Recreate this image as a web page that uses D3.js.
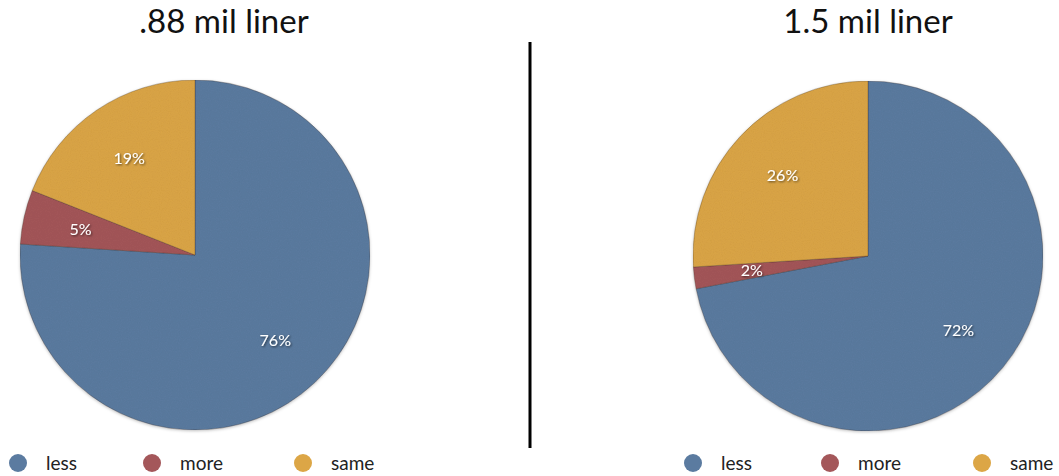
<!DOCTYPE html>
<html>
<head>
<meta charset="utf-8">
<script src="https://cdn.jsdelivr.net/npm/d3@7"></script>
<style>
  body { margin: 0; background: #fff; }
  svg { display: block; }
  text { font-family: "Lato", "Open Sans", sans-serif; }
</style>
</head>
<body>
<svg id="chart" width="1059" height="476"></svg>
<script>
// Survey answers per liner thickness
const categories = ["less", "more", "same"];
const titles = [".88 mil liner", "1.5 mil liner"];
const valuesThin = [76, 5, 19];
const valuesThick = [72, 2, 26];
const colors = ["#5b7ba0", "#a4575a", "#dca646"];

const panels = [
  { title: titles[0], values: valuesThin, cx: 195, cy: 255, titleX: 224, legendX: [18, 152, 303] },
  { title: titles[1], values: valuesThick, cx: 868, cy: 256, titleX: 868, legendX: [693, 830, 982] }
];

const svg = d3.select("#chart");
const radius = 175;

const defs = svg.append("defs");
// soft grain over the slices
const grain = defs.append("filter").attr("id", "grain").attr("x", 0).attr("y", 0).attr("width", 1).attr("height", 1);
grain.append("feTurbulence").attr("type", "fractalNoise").attr("baseFrequency", 0.9).attr("numOctaves", 2).attr("seed", 3).attr("result", "noise");
grain.append("feColorMatrix").attr("in", "noise").attr("type", "matrix")
  .attr("values", "0 0 0 0 0  0 0 0 0 0  0 0 0 0 0  0 0 0 0.10 0").attr("result", "dots");
grain.append("feComposite").attr("in", "dots").attr("in2", "SourceGraphic").attr("operator", "in").attr("result", "clipped");
grain.append("feMerge").selectAll("feMergeNode").data(["SourceGraphic", "clipped"]).join("feMergeNode").attr("in", d => d);

const textShadow = defs.append("filter").attr("id", "tshadow").attr("x", -0.3).attr("y", -0.3).attr("width", 1.6).attr("height", 1.6);
textShadow.append("feDropShadow").attr("dx", 1).attr("dy", 1).attr("stdDeviation", 0.8).attr("flood-color", "#000").attr("flood-opacity", 0.6);

const pieShadow = defs.append("filter").attr("id", "pshadow").attr("x", -0.1).attr("y", -0.1).attr("width", 1.2).attr("height", 1.2);
pieShadow.append("feDropShadow").attr("dx", 0).attr("dy", 1).attr("stdDeviation", 1.5).attr("flood-color", "#000").attr("flood-opacity", 0.25);

const color = d3.scaleOrdinal().domain(categories).range(colors);
const pie = d3.pie().sort(null).value(d => d.value);
const arc = d3.arc().innerRadius(0).outerRadius(radius);
const labelArc = d3.arc().innerRadius(radius * 0.67).outerRadius(radius * 0.67);

panels.forEach(p => {
  const rows = categories.map((c, i) => ({ category: c, value: p.values[i] }));
  const arcs = pie(rows);

  svg.append("text")
    .attr("x", p.titleX).attr("y", 33)
    .attr("text-anchor", "middle")
    .attr("font-size", 33)
    .attr("fill", "#111")
    .text(p.title);

  const g = svg.append("g").attr("transform", `translate(${p.cx},${p.cy})`);
  const slices = g.append("g").attr("filter", "url(#pshadow)").append("g").attr("filter", "url(#grain)");
  slices.selectAll("path")
    .data(arcs)
    .join("path")
    .attr("d", arc)
    .attr("fill", d => color(d.data.category))
    .attr("stroke", "rgba(60,40,30,0.35)")
    .attr("stroke-width", 0.8);

  g.selectAll("text.pct")
    .data(arcs)
    .join("text")
    .attr("class", "pct")
    .attr("transform", d => `translate(${labelArc.centroid(d)})`)
    .attr("text-anchor", "middle")
    .attr("dy", "0.35em")
    .attr("font-size", 16)
    .attr("fill", "#fff")
    .attr("filter", "url(#tshadow)")
    .text(d => d.data.value + "%");

  const legend = svg.append("g");
  const items = legend.selectAll("g")
    .data(categories)
    .join("g")
    .attr("transform", (d, i) => `translate(${p.legendX[i]},463)`);
  items.append("circle").attr("r", 9).attr("fill", d => color(d));
  items.append("text")
    .attr("x", 28).attr("dy", "0.35em")
    .attr("font-size", 19)
    .attr("fill", "#222")
    .text(d => d);
});

// divider between the two pies
svg.append("line")
  .attr("x1", 530).attr("x2", 530)
  .attr("y1", 42).attr("y2", 448)
  .attr("stroke", "#000")
  .attr("stroke-width", 3);
</script>
</body>
</html>
